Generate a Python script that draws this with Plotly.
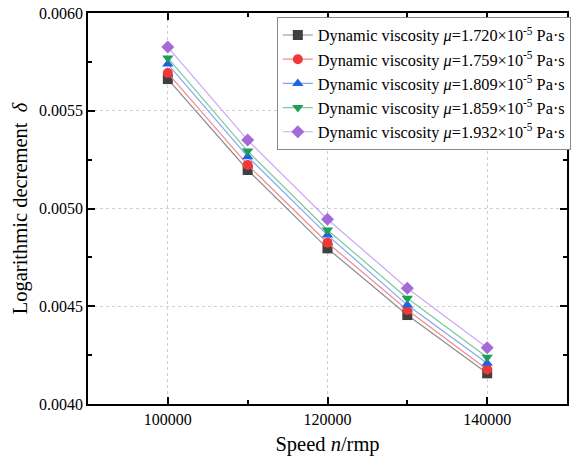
import plotly.graph_objects as go

speed = [100000, 110000, 120000, 130000, 140000]
labels = ["1.720", "1.759", "1.809", "1.859", "1.932"]
d1720 = [0.005662, 0.005197, 0.004796, 0.004455, 0.004157]
d1759 = [0.005693, 0.005223, 0.004825, 0.004481, 0.004177]
d1809 = [0.005739, 0.005265, 0.004864, 0.004506, 0.004208]
d1859 = [0.005770, 0.005294, 0.004890, 0.004541, 0.004239]
d1932 = [0.005826, 0.005350, 0.004945, 0.004592, 0.004288]

series = [d1720, d1759, d1809, d1859, d1932]
marker_colors = ["#404040", "#f03838", "#1c64e0", "#1f9e55", "#a66ad8"]
line_colors = ["#8c8c8c", "#f08a8a", "#7fa8ee", "#7cc99c", "#cfa8f0"]
symbols = ["square", "circle", "triangle-up", "triangle-down", "diamond"]

FONT = "Liberation Serif, Times New Roman, serif"

fig = go.Figure()
for lab, ys, mc, lc, sym in zip(labels, series, marker_colors, line_colors, symbols):
    fig.add_trace(go.Scatter(
        x=speed, y=ys, mode="lines+markers",
        name=f"Dynamic viscosity <i>μ</i>={lab}×10<sup>-5</sup> Pa·s",
        line=dict(color=lc, width=1.2),
        marker=dict(symbol=sym, color=mc, size=10, line=dict(width=0)),
    ))

axis_common = dict(
    showline=True, linecolor="black", linewidth=1.5, mirror="ticks",
    ticks="inside", ticklen=7, tickwidth=1.5, tickcolor="black",
    showgrid=True, gridcolor="#d0d0d0", griddash="dot", gridwidth=1,
    zeroline=False,
    tickfont=dict(family=FONT, size=16, color="black"),
    title_font=dict(family=FONT, size=20.5, color="black"),
)

fig.update_xaxes(
    range=[90000, 150000], tickvals=[100000, 120000, 140000],
    ticktext=["100000", "120000", "140000"],
    minor=dict(tickvals=[110000, 130000], ticks="inside", ticklen=4, tickcolor="black", tickwidth=1.5, showgrid=False),
    title_text="Speed <i>n</i>/rmp", title_standoff=10,
    **axis_common,
)
fig.update_yaxes(
    range=[0.0040, 0.0060], tickvals=[0.0040, 0.0045, 0.0050, 0.0055, 0.0060],
    ticktext=["0.0040", "0.0045", "0.0050", "0.0055", "0.0060"],
    minor=dict(tickvals=[0.00425, 0.00475, 0.00525, 0.00575], ticks="inside", ticklen=4, tickcolor="black", tickwidth=1.5, showgrid=False),
    title_text="Logarithmic decrement  <i>δ</i>", title_standoff=6,
    **axis_common,
)

fig.update_layout(
    width=574, height=463,
    margin=dict(l=88, r=3, t=13, b=59),
    plot_bgcolor="white", paper_bgcolor="white",
    font=dict(family=FONT, size=16, color="black"),
    legend=dict(
        x=1.008, y=0.99, xanchor="right", yanchor="top",
        bgcolor="white", bordercolor="#888888", borderwidth=1,
        font=dict(family=FONT, size=16.3, color="black"),
        itemwidth=30, tracegroupgap=0,
    ),
    showlegend=True,
)

fig.write_html("out.html", config={"displayModeBar": False},
               post_script="document.body.style.margin='0';document.body.style.padding='0';")
